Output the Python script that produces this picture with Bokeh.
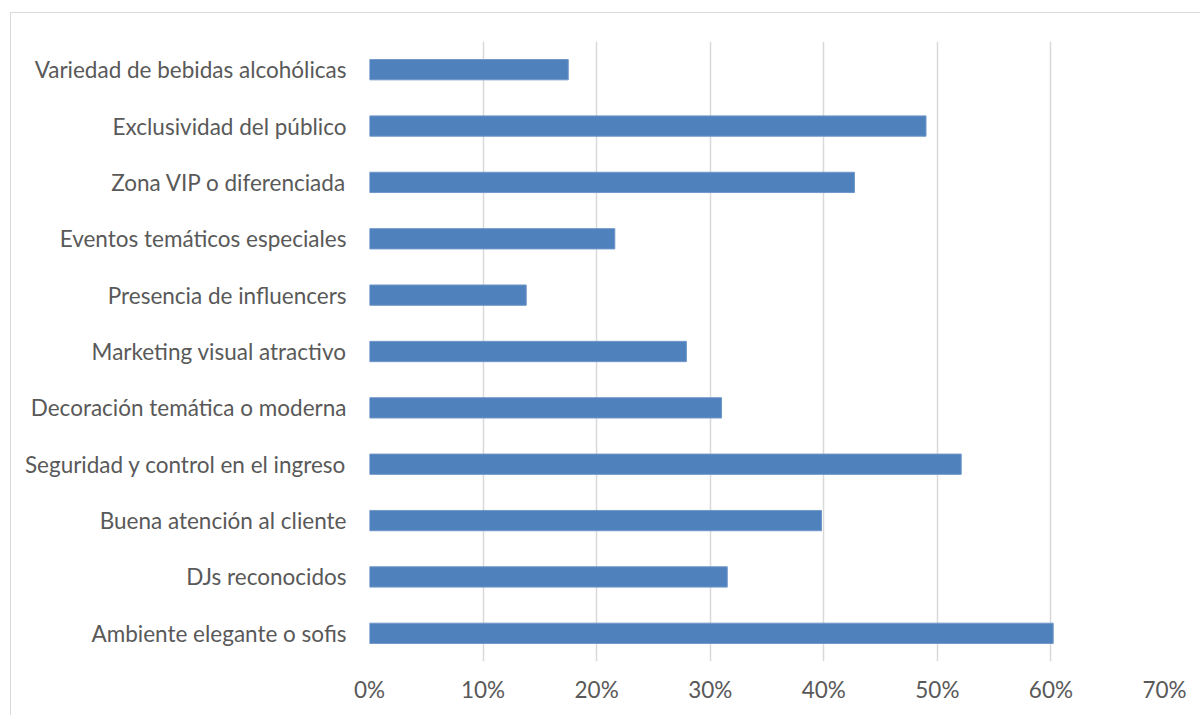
from bokeh.plotting import figure
from bokeh.models import FactorRange, Range1d, FixedTicker, NumeralTickFormatter, ColumnDataSource
from bokeh.embed import file_html
from bokeh.resources import INLINE

# categories from top to bottom as shown
categories = [
    "Variedad de bebidas alcohólicas",
    "Exclusividad del público",
    "Zona VIP o diferenciada",
    "Eventos temáticos especiales",
    "Presencia de influencers",
    "Marketing visual atractivo",
    "Decoración temática o moderna",
    "Seguridad y control en el ingreso",
    "Buena atención al cliente",
    "DJs reconocidos",
    "Ambiente elegante o sofis",
]
values = [0.175, 0.490, 0.427, 0.216, 0.138, 0.279, 0.310, 0.521, 0.398, 0.315, 0.602]
x_ticks = [0, 0.1, 0.2, 0.3, 0.4, 0.5, 0.6, 0.7]

FONT = "Lato"
FSIZE = "22.5px"
TXT = "#595959"
GRID = "#d9d9d9"

src = ColumnDataSource(dict(cat=categories, val=values))

# figure placed at (11, 13) inside a light-gray left/top border
p = figure(
    width=1190, height=703,
    y_range=FactorRange(factors=list(reversed(categories)), range_padding=0),
    x_range=Range1d(0, 0.70),
    output_backend="svg", toolbar_location=None,
    min_border_left=358, min_border_right=37, min_border_top=28, min_border_bottom=55,
    styles={"margin-left": "10px", "margin-top": "12px",
            "border-left": "1.5px solid #d9d9d9", "border-top": "1.5px solid #d9d9d9"},
)
p.outline_line_color = None
p.background_fill_color = "white"
p.border_fill_color = "white"

p.hbar(y="cat", right="val", left=0, height=0.36, source=src,
       fill_color="#4F81BD", line_color="#7097c9", line_width=1)

# x axis
p.xaxis.ticker = FixedTicker(ticks=x_ticks)
p.xaxis.formatter = NumeralTickFormatter(format="0%")
p.xaxis.axis_line_color = None
p.xaxis.major_tick_line_color = None
p.xaxis.major_tick_out = 0
p.xaxis.minor_tick_line_color = None
p.xaxis.major_label_standoff = 14
p.xaxis.major_label_text_font = FONT
p.xaxis.major_label_text_font_size = FSIZE
p.xaxis.major_label_text_color = TXT

# y axis
p.yaxis.axis_line_color = None
p.yaxis.major_tick_line_color = None
p.yaxis.major_tick_out = 0
p.yaxis.minor_tick_line_color = None
p.yaxis.major_label_standoff = 23
p.yaxis.major_label_text_font = FONT
p.yaxis.major_label_text_font_size = FSIZE
p.yaxis.major_label_text_color = TXT

# grid
p.xgrid.grid_line_color = GRID
p.xgrid.grid_line_width = 1.5
p.xgrid.ticker = FixedTicker(ticks=x_ticks)
p.ygrid.grid_line_color = None

open("out.html", "w").write(file_html(p, INLINE))
